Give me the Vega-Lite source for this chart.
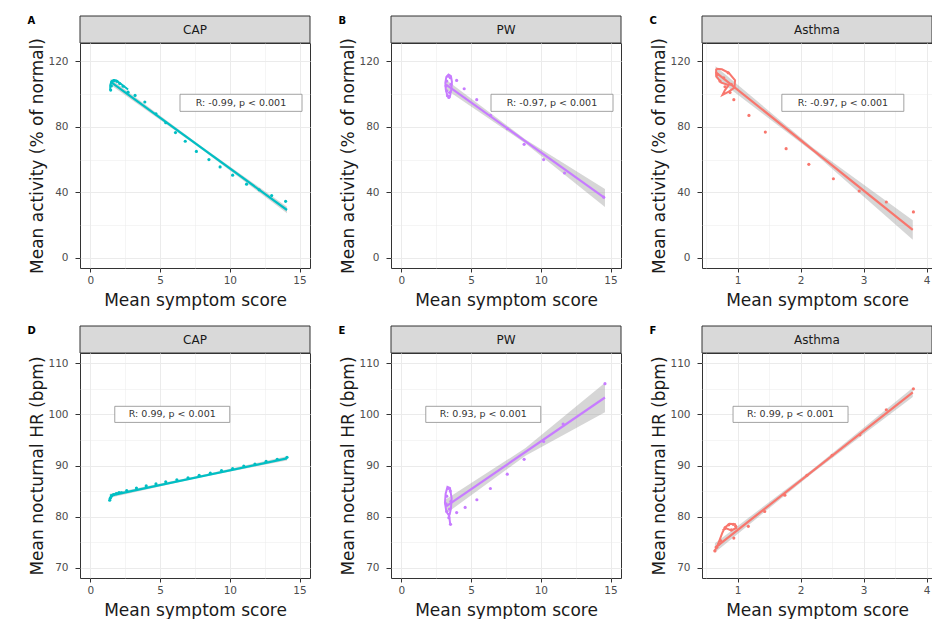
{
  "$schema": "https://vega.github.io/schema/vega-lite/v6.json",
  "background": "white",
  "padding": {"left": 27, "top": 15, "right": 0, "bottom": 0},
  "spacing": 16,
  "config": {
    "font": "DejaVu Sans",
    "view": {"stroke": "#333333", "strokeWidth": 1},
    "axis": {"domain": false, "tickColor": "#333333", "tickSize": 3.5, "labelColor": "#4D4D4D", "labelFontSize": 10.5, "labelPadding": 3, "labelOverlap": false, "titleFontSize": 17, "titleFontWeight": "normal", "titleColor": "#1A1A1A", "titlePadding": 4, "gridColor": "#EBEBEB"},
    "axisX": {"titlePadding": 7, "tickSize": 4},
    "axisY": {"tickSize": 5, "labelPadding": 7, "titlePadding": 1},
    "title": {"fontSize": 10, "fontWeight": "bold", "color": "#000000", "anchor": "start", "frame": "bounds", "baseline": "top", "offset": -10, "dx": -1}
  },
  "datasets": {
    "strip": [
      {"p": "A", "label": "CAP"}, {"p": "B", "label": "PW"}, {"p": "C", "label": "Asthma"},
      {"p": "D", "label": "CAP"}, {"p": "E", "label": "PW"}, {"p": "F", "label": "Asthma"}
    ],
    "lab": [
      {"p": "A", "x": 10.8, "y": 94.7, "label": "R: -0.99, p < 0.001"},
      {"p": "B", "x": 10.8, "y": 94.7, "label": "R: -0.97, p < 0.001"},
      {"p": "C", "x": 2.67, "y": 94.7, "label": "R: -0.97, p < 0.001"},
      {"p": "D", "x": 5.87, "y": 100, "label": "R: 0.99, p < 0.001"},
      {"p": "E", "x": 5.87, "y": 100, "label": "R: 0.93, p < 0.001"},
      {"p": "F", "x": 1.84, "y": 100, "label": "R: 0.99, p < 0.001"}
    ],
    "fit": [
      {"p": "A", "x": 1.45, "y": 107.5}, {"p": "A", "x": 14.1, "y": 29.2},
      {"p": "B", "x": 3.2, "y": 105.8}, {"p": "B", "x": 14.6, "y": 36.5},
      {"p": "C", "x": 0.65, "y": 113.5}, {"p": "C", "x": 3.78, "y": 17},
      {"p": "D", "x": 1.4, "y": 84.1}, {"p": "D", "x": 14.1, "y": 91.4},
      {"p": "E", "x": 3.2, "y": 82}, {"p": "E", "x": 14.6, "y": 103.3},
      {"p": "F", "x": 0.64, "y": 73.9}, {"p": "F", "x": 3.78, "y": 104.3}
    ],
    "band": [
      {"p": "A", "x": 1.45, "y": 105.6, "y2": 109.4}, {"p": "A", "x": 7.8, "y": 67.4, "y2": 69.0}, {"p": "A", "x": 14.1, "y": 27.2, "y2": 31.2},
      {"p": "B", "x": 3.2, "y": 102.8, "y2": 108.8}, {"p": "B", "x": 8.9, "y": 69.9, "y2": 72.3}, {"p": "B", "x": 14.6, "y": 31, "y2": 42},
      {"p": "C", "x": 0.65, "y": 110, "y2": 117}, {"p": "C", "x": 2.2, "y": 64.5, "y2": 67.1}, {"p": "C", "x": 3.78, "y": 11, "y2": 23},
      {"p": "D", "x": 1.4, "y": 83.7, "y2": 84.5}, {"p": "D", "x": 7.75, "y": 87.6, "y2": 88.0}, {"p": "D", "x": 14.1, "y": 91.0, "y2": 91.8},
      {"p": "E", "x": 3.2, "y": 80.6, "y2": 83.4}, {"p": "E", "x": 8.9, "y": 91.9, "y2": 93.4}, {"p": "E", "x": 14.6, "y": 100.4, "y2": 106.2},
      {"p": "F", "x": 0.64, "y": 73, "y2": 74.8}, {"p": "F", "x": 2.2, "y": 88.65, "y2": 89.35}, {"p": "F", "x": 3.78, "y": 103.4, "y2": 105.2}
    ],
    "path": [
      {"p": "A", "i": 0, "x": 1.42, "y": 102.5}, {"p": "A", "i": 1, "x": 1.42, "y": 105.5}, {"p": "A", "i": 2, "x": 1.5, "y": 107.8}, {"p": "A", "i": 3, "x": 1.65, "y": 108.6}, {"p": "A", "i": 4, "x": 1.85, "y": 108.3}, {"p": "A", "i": 5, "x": 2.1, "y": 106.8}, {"p": "A", "i": 6, "x": 2.4, "y": 104.8}, {"p": "A", "i": 7, "x": 2.7, "y": 102.8},
      {"p": "B", "i": 0, "x": 3.45, "y": 97.8}, {"p": "B", "i": 1, "x": 3.28, "y": 99.5}, {"p": "B", "i": 2, "x": 3.18, "y": 103}, {"p": "B", "i": 3, "x": 3.15, "y": 107}, {"p": "B", "i": 4, "x": 3.22, "y": 110.5}, {"p": "B", "i": 5, "x": 3.38, "y": 112}, {"p": "B", "i": 6, "x": 3.55, "y": 111}, {"p": "B", "i": 7, "x": 3.62, "y": 107.5}, {"p": "B", "i": 8, "x": 3.58, "y": 103}, {"p": "B", "i": 9, "x": 3.5, "y": 99.5}, {"p": "B", "i": 10, "x": 3.45, "y": 97.8},
      {"p": "C", "i": 0, "x": 0.66, "y": 115.5}, {"p": "C", "i": 1, "x": 0.75, "y": 115.2}, {"p": "C", "i": 2, "x": 0.86, "y": 113}, {"p": "C", "i": 3, "x": 0.96, "y": 108.5}, {"p": "C", "i": 4, "x": 0.95, "y": 104}, {"p": "C", "i": 5, "x": 0.86, "y": 101.5}, {"p": "C", "i": 6, "x": 0.76, "y": 99.5}, {"p": "C", "i": 7, "x": 0.8, "y": 102.5}, {"p": "C", "i": 8, "x": 0.86, "y": 105.5}, {"p": "C", "i": 9, "x": 0.74, "y": 107}, {"p": "C", "i": 10, "x": 0.66, "y": 111}, {"p": "C", "i": 11, "x": 0.66, "y": 115.5},
      {"p": "D", "i": 0, "x": 1.38, "y": 83.1}, {"p": "D", "i": 1, "x": 1.42, "y": 83.7}, {"p": "D", "i": 2, "x": 1.55, "y": 84.1}, {"p": "D", "i": 3, "x": 1.8, "y": 84.45}, {"p": "D", "i": 4, "x": 2.3, "y": 84.8},
      {"p": "E", "i": 0, "x": 3.5, "y": 78.5}, {"p": "E", "i": 1, "x": 3.42, "y": 80.2}, {"p": "E", "i": 2, "x": 3.22, "y": 81}, {"p": "E", "i": 3, "x": 3.12, "y": 82.7}, {"p": "E", "i": 4, "x": 3.17, "y": 84.5}, {"p": "E", "i": 5, "x": 3.3, "y": 85.8}, {"p": "E", "i": 6, "x": 3.48, "y": 85.6}, {"p": "E", "i": 7, "x": 3.6, "y": 83.6}, {"p": "E", "i": 8, "x": 3.55, "y": 81.6}, {"p": "E", "i": 9, "x": 3.45, "y": 80.3},
      {"p": "F", "i": 0, "x": 0.63, "y": 73.2}, {"p": "F", "i": 1, "x": 0.68, "y": 74.3}, {"p": "F", "i": 2, "x": 0.72, "y": 75.6}, {"p": "F", "i": 3, "x": 0.76, "y": 76.9}, {"p": "F", "i": 4, "x": 0.8, "y": 77.9}, {"p": "F", "i": 5, "x": 0.87, "y": 78.6}, {"p": "F", "i": 6, "x": 0.96, "y": 78.5}, {"p": "F", "i": 7, "x": 0.98, "y": 77.8}, {"p": "F", "i": 8, "x": 0.9, "y": 77.3}, {"p": "F", "i": 9, "x": 0.82, "y": 77.7}, {"p": "F", "i": 10, "x": 0.76, "y": 77.3}
    ],
    "pts": [
      {"p": "A", "x": 1.45, "y": 102.5}, {"p": "A", "x": 1.5, "y": 105}, {"p": "A", "x": 1.55, "y": 107.5}, {"p": "A", "x": 1.7, "y": 108.3}, {"p": "A", "x": 1.9, "y": 107.8}, {"p": "A", "x": 2.1, "y": 106.5}, {"p": "A", "x": 2.35, "y": 104.8},
      {"p": "A", "x": 2.7, "y": 101.2}, {"p": "A", "x": 3.2, "y": 99.2}, {"p": "A", "x": 3.9, "y": 95.2}, {"p": "A", "x": 4.7, "y": 88}, {"p": "A", "x": 5.4, "y": 82.5}, {"p": "A", "x": 6.1, "y": 76.5}, {"p": "A", "x": 6.8, "y": 71.2}, {"p": "A", "x": 7.6, "y": 65}, {"p": "A", "x": 8.5, "y": 60}, {"p": "A", "x": 9.3, "y": 55.5}, {"p": "A", "x": 10.2, "y": 50.5}, {"p": "A", "x": 11.2, "y": 45}, {"p": "A", "x": 12.1, "y": 41.5}, {"p": "A", "x": 13.0, "y": 38}, {"p": "A", "x": 14.0, "y": 34.5},
      {"p": "B", "x": 3.3, "y": 99}, {"p": "B", "x": 3.25, "y": 102}, {"p": "B", "x": 3.2, "y": 105}, {"p": "B", "x": 3.25, "y": 108}, {"p": "B", "x": 3.35, "y": 111}, {"p": "B", "x": 3.5, "y": 110}, {"p": "B", "x": 3.55, "y": 106}, {"p": "B", "x": 3.45, "y": 101}, {"p": "B", "x": 3.4, "y": 98},
      {"p": "B", "x": 3.96, "y": 108.4}, {"p": "B", "x": 4.5, "y": 103.3}, {"p": "B", "x": 5.4, "y": 96.6}, {"p": "B", "x": 6.4, "y": 87}, {"p": "B", "x": 7.6, "y": 78.9}, {"p": "B", "x": 8.8, "y": 69.3}, {"p": "B", "x": 10.2, "y": 60}, {"p": "B", "x": 11.7, "y": 51.8}, {"p": "B", "x": 14.5, "y": 37.1},
      {"p": "C", "x": 0.68, "y": 112}, {"p": "C", "x": 0.72, "y": 108}, {"p": "C", "x": 0.8, "y": 104.5}, {"p": "C", "x": 0.88, "y": 101}, {"p": "C", "x": 0.9, "y": 106}, {"p": "C", "x": 0.78, "y": 110}, {"p": "C", "x": 0.85, "y": 113},
      {"p": "C", "x": 0.94, "y": 96.6}, {"p": "C", "x": 1.18, "y": 87}, {"p": "C", "x": 1.44, "y": 76.8}, {"p": "C", "x": 1.77, "y": 66.7}, {"p": "C", "x": 2.13, "y": 57.1}, {"p": "C", "x": 2.52, "y": 48.3}, {"p": "C", "x": 2.93, "y": 40.8}, {"p": "C", "x": 3.36, "y": 34.1}, {"p": "C", "x": 3.79, "y": 28},
      {"p": "D", "x": 1.38, "y": 83.2}, {"p": "D", "x": 1.42, "y": 83.6}, {"p": "D", "x": 1.5, "y": 84}, {"p": "D", "x": 1.65, "y": 84.3}, {"p": "D", "x": 1.85, "y": 84.5}, {"p": "D", "x": 2.05, "y": 84.7},
      {"p": "D", "x": 2.6, "y": 85.1}, {"p": "D", "x": 3.3, "y": 85.6}, {"p": "D", "x": 4.0, "y": 86}, {"p": "D", "x": 4.7, "y": 86.4}, {"p": "D", "x": 5.4, "y": 86.8}, {"p": "D", "x": 6.2, "y": 87.2}, {"p": "D", "x": 7.0, "y": 87.6}, {"p": "D", "x": 7.8, "y": 88.1}, {"p": "D", "x": 8.6, "y": 88.5}, {"p": "D", "x": 9.4, "y": 89}, {"p": "D", "x": 10.2, "y": 89.4}, {"p": "D", "x": 11.0, "y": 89.9}, {"p": "D", "x": 11.8, "y": 90.3}, {"p": "D", "x": 12.6, "y": 90.8}, {"p": "D", "x": 13.4, "y": 91.2}, {"p": "D", "x": 14.1, "y": 91.6},
      {"p": "E", "x": 3.4, "y": 79.8}, {"p": "E", "x": 3.25, "y": 81}, {"p": "E", "x": 3.2, "y": 82.5}, {"p": "E", "x": 3.25, "y": 84}, {"p": "E", "x": 3.35, "y": 85.5}, {"p": "E", "x": 3.5, "y": 85}, {"p": "E", "x": 3.55, "y": 83}, {"p": "E", "x": 3.45, "y": 81.5}, {"p": "E", "x": 3.52, "y": 78.5},
      {"p": "E", "x": 3.96, "y": 80.8}, {"p": "E", "x": 4.57, "y": 81.8}, {"p": "E", "x": 5.41, "y": 83.3}, {"p": "E", "x": 6.38, "y": 85.5}, {"p": "E", "x": 7.59, "y": 88.3}, {"p": "E", "x": 8.8, "y": 91.2}, {"p": "E", "x": 10.2, "y": 94.7}, {"p": "E", "x": 11.6, "y": 98.1}, {"p": "E", "x": 14.6, "y": 106},
      {"p": "F", "x": 0.64, "y": 73.3}, {"p": "F", "x": 0.67, "y": 74}, {"p": "F", "x": 0.7, "y": 74.6}, {"p": "F", "x": 0.73, "y": 75.3}, {"p": "F", "x": 0.8, "y": 77.8}, {"p": "F", "x": 0.86, "y": 78.4}, {"p": "F", "x": 0.93, "y": 78.5}, {"p": "F", "x": 0.97, "y": 78.1}, {"p": "F", "x": 0.9, "y": 77.4},
      {"p": "F", "x": 0.94, "y": 75.8}, {"p": "F", "x": 1.17, "y": 78.1}, {"p": "F", "x": 1.43, "y": 81}, {"p": "F", "x": 1.75, "y": 84.2}, {"p": "F", "x": 2.1, "y": 88.1}, {"p": "F", "x": 2.5, "y": 92}, {"p": "F", "x": 2.94, "y": 96}, {"p": "F", "x": 3.36, "y": 100.9}, {"p": "F", "x": 3.79, "y": 105}
    ]
  },
  "vconcat": [
    {
      "spacing": 27,
      "hconcat": [
        {
          "title": {"text": "A"},
          "spacing": 0, "bounds": "flush",
          "vconcat": [
            {"width": 230, "height": 27, "data": {"name": "strip"}, "transform": [{"filter": "datum.p === 'A'"}],
             "layer": [
               {"mark": {"type": "rect", "fill": "#D9D9D9", "stroke": "#333333", "strokeWidth": 1}, "encoding": {}},
               {"mark": {"type": "text", "fontSize": 12, "color": "#1A1A1A"}, "encoding": {"text": {"field": "label"}}}
             ]},
            {"width": 230, "height": 225,
             "encoding": {
               "x": {"field": "x", "type": "quantitative", "scale": {"domain": [-0.75, 15.75], "nice": false, "zero": false},
                     "axis": {"title": "Mean symptom score", "values": [0, 2.5, 5, 7.5, 10, 12.5, 15], "labelExpr": "datum.value % 5 === 0 ? datum.label : ''", "tickOpacity": {"condition": {"test": "datum.value % 5 === 0", "value": 1}, "value": 0}, "gridWidth": {"condition": {"test": "datum.value % 5 === 0", "value": 1}, "value": 0.5}}},
               "y": {"field": "y", "type": "quantitative", "scale": {"domain": [-6.25, 131.25], "nice": false, "zero": false},
                     "axis": {"title": "Mean activity (% of normal)", "values": [0, 20, 40, 60, 80, 100, 120], "labelExpr": "datum.value % 40 === 0 ? datum.label : ''", "tickOpacity": {"condition": {"test": "datum.value % 40 === 0", "value": 1}, "value": 0}, "gridWidth": {"condition": {"test": "datum.value % 40 === 0", "value": 1}, "value": 0.5}}}
             },
             "layer": [
               {"data": {"name": "band"}, "transform": [{"filter": "datum.p === 'A'"}], "mark": {"type": "area", "color": "#999999", "opacity": 0.4}, "encoding": {"y2": {"field": "y2"}}},
               {"data": {"name": "fit"}, "transform": [{"filter": "datum.p === 'A'"}], "mark": {"type": "line", "color": "#00BFC4", "strokeWidth": 2.2}},
               {"data": {"name": "path"}, "transform": [{"filter": "datum.p === 'A'"}], "mark": {"type": "line", "color": "#00BFC4", "strokeWidth": 2}, "encoding": {"order": {"field": "i", "type": "quantitative"}}},
               {"data": {"name": "pts"}, "transform": [{"filter": "datum.p === 'A'"}], "mark": {"type": "point", "filled": true, "color": "#00BFC4", "size": 10, "opacity": 1}},
               {"data": {"name": "lab"}, "transform": [{"filter": "datum.p === 'A'"}], "mark": {"type": "point", "shape": "M-1,-0.14L1,-0.14L1,0.14L-1,0.14Z", "size": 14884, "filled": true, "fill": "white", "stroke": "#8C8C8C", "strokeWidth": 0.8, "opacity": 1}},
               {"data": {"name": "lab"}, "transform": [{"filter": "datum.p === 'A'"}], "mark": {"type": "text", "fontSize": 9.5, "color": "#333333"}, "encoding": {"text": {"field": "label"}}}
             ]}
          ]
        },
        {
          "title": {"text": "B"},
          "spacing": 0, "bounds": "flush",
          "vconcat": [
            {"width": 230, "height": 27, "data": {"name": "strip"}, "transform": [{"filter": "datum.p === 'B'"}],
             "layer": [
               {"mark": {"type": "rect", "fill": "#D9D9D9", "stroke": "#333333", "strokeWidth": 1}, "encoding": {}},
               {"mark": {"type": "text", "fontSize": 12, "color": "#1A1A1A"}, "encoding": {"text": {"field": "label"}}}
             ]},
            {"width": 230, "height": 225,
             "encoding": {
               "x": {"field": "x", "type": "quantitative", "scale": {"domain": [-0.75, 15.75], "nice": false, "zero": false},
                     "axis": {"title": "Mean symptom score", "values": [0, 2.5, 5, 7.5, 10, 12.5, 15], "labelExpr": "datum.value % 5 === 0 ? datum.label : ''", "tickOpacity": {"condition": {"test": "datum.value % 5 === 0", "value": 1}, "value": 0}, "gridWidth": {"condition": {"test": "datum.value % 5 === 0", "value": 1}, "value": 0.5}}},
               "y": {"field": "y", "type": "quantitative", "scale": {"domain": [-6.25, 131.25], "nice": false, "zero": false},
                     "axis": {"title": "Mean activity (% of normal)", "values": [0, 20, 40, 60, 80, 100, 120], "labelExpr": "datum.value % 40 === 0 ? datum.label : ''", "tickOpacity": {"condition": {"test": "datum.value % 40 === 0", "value": 1}, "value": 0}, "gridWidth": {"condition": {"test": "datum.value % 40 === 0", "value": 1}, "value": 0.5}}}
             },
             "layer": [
               {"data": {"name": "band"}, "transform": [{"filter": "datum.p === 'B'"}], "mark": {"type": "area", "color": "#999999", "opacity": 0.4}, "encoding": {"y2": {"field": "y2"}}},
               {"data": {"name": "fit"}, "transform": [{"filter": "datum.p === 'B'"}], "mark": {"type": "line", "color": "#C77CFF", "strokeWidth": 2.2}},
               {"data": {"name": "path"}, "transform": [{"filter": "datum.p === 'B'"}], "mark": {"type": "line", "color": "#C77CFF", "strokeWidth": 2}, "encoding": {"order": {"field": "i", "type": "quantitative"}}},
               {"data": {"name": "pts"}, "transform": [{"filter": "datum.p === 'B'"}], "mark": {"type": "point", "filled": true, "color": "#C77CFF", "size": 10, "opacity": 1}},
               {"data": {"name": "lab"}, "transform": [{"filter": "datum.p === 'B'"}], "mark": {"type": "point", "shape": "M-1,-0.14L1,-0.14L1,0.14L-1,0.14Z", "size": 14884, "filled": true, "fill": "white", "stroke": "#8C8C8C", "strokeWidth": 0.8, "opacity": 1}},
               {"data": {"name": "lab"}, "transform": [{"filter": "datum.p === 'B'"}], "mark": {"type": "text", "fontSize": 9.5, "color": "#333333"}, "encoding": {"text": {"field": "label"}}}
             ]}
          ]
        },
        {
          "title": {"text": "C"},
          "spacing": 0, "bounds": "flush",
          "vconcat": [
            {"width": 230, "height": 27, "data": {"name": "strip"}, "transform": [{"filter": "datum.p === 'C'"}],
             "layer": [
               {"mark": {"type": "rect", "fill": "#D9D9D9", "stroke": "#333333", "strokeWidth": 1}, "encoding": {}},
               {"mark": {"type": "text", "fontSize": 12, "color": "#1A1A1A"}, "encoding": {"text": {"field": "label"}}}
             ]},
            {"width": 230, "height": 225,
             "encoding": {
               "x": {"field": "x", "type": "quantitative", "scale": {"domain": [0.435, 4.085], "nice": false, "zero": false},
                     "axis": {"title": "Mean symptom score", "values": [0.5, 1, 1.5, 2, 2.5, 3, 3.5, 4], "labelExpr": "datum.value % 1 === 0 ? format(datum.value, 'd') : ''", "tickOpacity": {"condition": {"test": "datum.value % 1 === 0", "value": 1}, "value": 0}, "gridWidth": {"condition": {"test": "datum.value % 1 === 0", "value": 1}, "value": 0.5}}},
               "y": {"field": "y", "type": "quantitative", "scale": {"domain": [-6.25, 131.25], "nice": false, "zero": false},
                     "axis": {"title": "Mean activity (% of normal)", "values": [0, 20, 40, 60, 80, 100, 120], "labelExpr": "datum.value % 40 === 0 ? datum.label : ''", "tickOpacity": {"condition": {"test": "datum.value % 40 === 0", "value": 1}, "value": 0}, "gridWidth": {"condition": {"test": "datum.value % 40 === 0", "value": 1}, "value": 0.5}}}
             },
             "layer": [
               {"data": {"name": "band"}, "transform": [{"filter": "datum.p === 'C'"}], "mark": {"type": "area", "color": "#999999", "opacity": 0.4}, "encoding": {"y2": {"field": "y2"}}},
               {"data": {"name": "fit"}, "transform": [{"filter": "datum.p === 'C'"}], "mark": {"type": "line", "color": "#F8766D", "strokeWidth": 2.2}},
               {"data": {"name": "path"}, "transform": [{"filter": "datum.p === 'C'"}], "mark": {"type": "line", "color": "#F8766D", "strokeWidth": 2}, "encoding": {"order": {"field": "i", "type": "quantitative"}}},
               {"data": {"name": "pts"}, "transform": [{"filter": "datum.p === 'C'"}], "mark": {"type": "point", "filled": true, "color": "#F8766D", "size": 10, "opacity": 1}},
               {"data": {"name": "lab"}, "transform": [{"filter": "datum.p === 'C'"}], "mark": {"type": "point", "shape": "M-1,-0.14L1,-0.14L1,0.14L-1,0.14Z", "size": 14884, "filled": true, "fill": "white", "stroke": "#8C8C8C", "strokeWidth": 0.8, "opacity": 1}},
               {"data": {"name": "lab"}, "transform": [{"filter": "datum.p === 'C'"}], "mark": {"type": "text", "fontSize": 9.5, "color": "#333333"}, "encoding": {"text": {"field": "label"}}}
             ]}
          ]
        }
      ]
    },
    {
      "spacing": 27,
      "hconcat": [
        {
          "title": {"text": "D"},
          "spacing": 0, "bounds": "flush",
          "vconcat": [
            {"width": 230, "height": 27, "data": {"name": "strip"}, "transform": [{"filter": "datum.p === 'D'"}],
             "layer": [
               {"mark": {"type": "rect", "fill": "#D9D9D9", "stroke": "#333333", "strokeWidth": 1}, "encoding": {}},
               {"mark": {"type": "text", "fontSize": 12, "color": "#1A1A1A"}, "encoding": {"text": {"field": "label"}}}
             ]},
            {"width": 230, "height": 225,
             "encoding": {
               "x": {"field": "x", "type": "quantitative", "scale": {"domain": [-0.75, 15.75], "nice": false, "zero": false},
                     "axis": {"title": "Mean symptom score", "values": [0, 2.5, 5, 7.5, 10, 12.5, 15], "labelExpr": "datum.value % 5 === 0 ? datum.label : ''", "tickOpacity": {"condition": {"test": "datum.value % 5 === 0", "value": 1}, "value": 0}, "gridWidth": {"condition": {"test": "datum.value % 5 === 0", "value": 1}, "value": 0.5}}},
               "y": {"field": "y", "type": "quantitative", "scale": {"domain": [68, 112], "nice": false, "zero": false},
                     "axis": {"title": "Mean nocturnal HR (bpm)", "values": [70, 75, 80, 85, 90, 95, 100, 105, 110], "labelExpr": "datum.value % 10 === 0 ? datum.label : ''", "tickOpacity": {"condition": {"test": "datum.value % 10 === 0", "value": 1}, "value": 0}, "gridWidth": {"condition": {"test": "datum.value % 10 === 0", "value": 1}, "value": 0.5}}}
             },
             "layer": [
               {"data": {"name": "band"}, "transform": [{"filter": "datum.p === 'D'"}], "mark": {"type": "area", "color": "#999999", "opacity": 0.4}, "encoding": {"y2": {"field": "y2"}}},
               {"data": {"name": "fit"}, "transform": [{"filter": "datum.p === 'D'"}], "mark": {"type": "line", "color": "#00BFC4", "strokeWidth": 2.2}},
               {"data": {"name": "path"}, "transform": [{"filter": "datum.p === 'D'"}], "mark": {"type": "line", "color": "#00BFC4", "strokeWidth": 2}, "encoding": {"order": {"field": "i", "type": "quantitative"}}},
               {"data": {"name": "pts"}, "transform": [{"filter": "datum.p === 'D'"}], "mark": {"type": "point", "filled": true, "color": "#00BFC4", "size": 10, "opacity": 1}},
               {"data": {"name": "lab"}, "transform": [{"filter": "datum.p === 'D'"}], "mark": {"type": "point", "shape": "M-1,-0.14L1,-0.14L1,0.14L-1,0.14Z", "size": 13225, "filled": true, "fill": "white", "stroke": "#8C8C8C", "strokeWidth": 0.8, "opacity": 1}},
               {"data": {"name": "lab"}, "transform": [{"filter": "datum.p === 'D'"}], "mark": {"type": "text", "fontSize": 9.5, "color": "#333333"}, "encoding": {"text": {"field": "label"}}}
             ]}
          ]
        },
        {
          "title": {"text": "E"},
          "spacing": 0, "bounds": "flush",
          "vconcat": [
            {"width": 230, "height": 27, "data": {"name": "strip"}, "transform": [{"filter": "datum.p === 'E'"}],
             "layer": [
               {"mark": {"type": "rect", "fill": "#D9D9D9", "stroke": "#333333", "strokeWidth": 1}, "encoding": {}},
               {"mark": {"type": "text", "fontSize": 12, "color": "#1A1A1A"}, "encoding": {"text": {"field": "label"}}}
             ]},
            {"width": 230, "height": 225,
             "encoding": {
               "x": {"field": "x", "type": "quantitative", "scale": {"domain": [-0.75, 15.75], "nice": false, "zero": false},
                     "axis": {"title": "Mean symptom score", "values": [0, 2.5, 5, 7.5, 10, 12.5, 15], "labelExpr": "datum.value % 5 === 0 ? datum.label : ''", "tickOpacity": {"condition": {"test": "datum.value % 5 === 0", "value": 1}, "value": 0}, "gridWidth": {"condition": {"test": "datum.value % 5 === 0", "value": 1}, "value": 0.5}}},
               "y": {"field": "y", "type": "quantitative", "scale": {"domain": [68, 112], "nice": false, "zero": false},
                     "axis": {"title": "Mean nocturnal HR (bpm)", "values": [70, 75, 80, 85, 90, 95, 100, 105, 110], "labelExpr": "datum.value % 10 === 0 ? datum.label : ''", "tickOpacity": {"condition": {"test": "datum.value % 10 === 0", "value": 1}, "value": 0}, "gridWidth": {"condition": {"test": "datum.value % 10 === 0", "value": 1}, "value": 0.5}}}
             },
             "layer": [
               {"data": {"name": "band"}, "transform": [{"filter": "datum.p === 'E'"}], "mark": {"type": "area", "color": "#999999", "opacity": 0.4}, "encoding": {"y2": {"field": "y2"}}},
               {"data": {"name": "fit"}, "transform": [{"filter": "datum.p === 'E'"}], "mark": {"type": "line", "color": "#C77CFF", "strokeWidth": 2.2}},
               {"data": {"name": "path"}, "transform": [{"filter": "datum.p === 'E'"}], "mark": {"type": "line", "color": "#C77CFF", "strokeWidth": 2}, "encoding": {"order": {"field": "i", "type": "quantitative"}}},
               {"data": {"name": "pts"}, "transform": [{"filter": "datum.p === 'E'"}], "mark": {"type": "point", "filled": true, "color": "#C77CFF", "size": 10, "opacity": 1}},
               {"data": {"name": "lab"}, "transform": [{"filter": "datum.p === 'E'"}], "mark": {"type": "point", "shape": "M-1,-0.14L1,-0.14L1,0.14L-1,0.14Z", "size": 13225, "filled": true, "fill": "white", "stroke": "#8C8C8C", "strokeWidth": 0.8, "opacity": 1}},
               {"data": {"name": "lab"}, "transform": [{"filter": "datum.p === 'E'"}], "mark": {"type": "text", "fontSize": 9.5, "color": "#333333"}, "encoding": {"text": {"field": "label"}}}
             ]}
          ]
        },
        {
          "title": {"text": "F"},
          "spacing": 0, "bounds": "flush",
          "vconcat": [
            {"width": 230, "height": 27, "data": {"name": "strip"}, "transform": [{"filter": "datum.p === 'F'"}],
             "layer": [
               {"mark": {"type": "rect", "fill": "#D9D9D9", "stroke": "#333333", "strokeWidth": 1}, "encoding": {}},
               {"mark": {"type": "text", "fontSize": 12, "color": "#1A1A1A"}, "encoding": {"text": {"field": "label"}}}
             ]},
            {"width": 230, "height": 225,
             "encoding": {
               "x": {"field": "x", "type": "quantitative", "scale": {"domain": [0.435, 4.085], "nice": false, "zero": false},
                     "axis": {"title": "Mean symptom score", "values": [0.5, 1, 1.5, 2, 2.5, 3, 3.5, 4], "labelExpr": "datum.value % 1 === 0 ? format(datum.value, 'd') : ''", "tickOpacity": {"condition": {"test": "datum.value % 1 === 0", "value": 1}, "value": 0}, "gridWidth": {"condition": {"test": "datum.value % 1 === 0", "value": 1}, "value": 0.5}}},
               "y": {"field": "y", "type": "quantitative", "scale": {"domain": [68, 112], "nice": false, "zero": false},
                     "axis": {"title": "Mean nocturnal HR (bpm)", "values": [70, 75, 80, 85, 90, 95, 100, 105, 110], "labelExpr": "datum.value % 10 === 0 ? datum.label : ''", "tickOpacity": {"condition": {"test": "datum.value % 10 === 0", "value": 1}, "value": 0}, "gridWidth": {"condition": {"test": "datum.value % 10 === 0", "value": 1}, "value": 0.5}}}
             },
             "layer": [
               {"data": {"name": "band"}, "transform": [{"filter": "datum.p === 'F'"}], "mark": {"type": "area", "color": "#999999", "opacity": 0.4}, "encoding": {"y2": {"field": "y2"}}},
               {"data": {"name": "fit"}, "transform": [{"filter": "datum.p === 'F'"}], "mark": {"type": "line", "color": "#F8766D", "strokeWidth": 2.2}},
               {"data": {"name": "path"}, "transform": [{"filter": "datum.p === 'F'"}], "mark": {"type": "line", "color": "#F8766D", "strokeWidth": 2}, "encoding": {"order": {"field": "i", "type": "quantitative"}}},
               {"data": {"name": "pts"}, "transform": [{"filter": "datum.p === 'F'"}], "mark": {"type": "point", "filled": true, "color": "#F8766D", "size": 10, "opacity": 1}},
               {"data": {"name": "lab"}, "transform": [{"filter": "datum.p === 'F'"}], "mark": {"type": "point", "shape": "M-1,-0.14L1,-0.14L1,0.14L-1,0.14Z", "size": 13225, "filled": true, "fill": "white", "stroke": "#8C8C8C", "strokeWidth": 0.8, "opacity": 1}},
               {"data": {"name": "lab"}, "transform": [{"filter": "datum.p === 'F'"}], "mark": {"type": "text", "fontSize": 9.5, "color": "#333333"}, "encoding": {"text": {"field": "label"}}}
             ]}
          ]
        }
      ]
    }
  ]
}
